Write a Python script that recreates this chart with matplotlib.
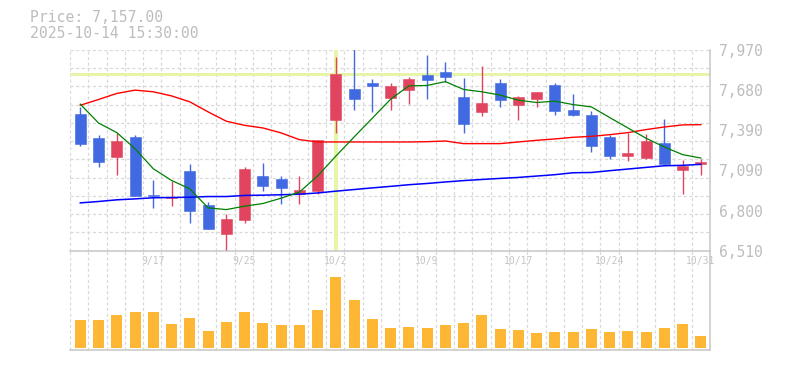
import matplotlib
matplotlib.use("Agg")
import matplotlib.pyplot as plt
import numpy as np

# daily candles, 9/10 - 10/31
dates = ["9/10", "9/11", "9/12", "9/16", "9/17", "9/18", "9/19", "9/22", "9/24", "9/25",
         "9/26", "9/29", "9/30", "10/1", "10/2", "10/3", "10/6", "10/7", "10/8", "10/9",
         "10/10", "10/14", "10/15", "10/16", "10/17", "10/20", "10/21", "10/22", "10/23", "10/24",
         "10/27", "10/28", "10/29", "10/30", "10/31"]
opens = [7503, 7328, 7191, 7335, 6912, 6890, 7087, 6846, 6629, 6731,
         7050, 7028, 6919, 6943, 7461, 7685, 7729, 7622, 7680, 7788,
         7809, 7627, 7520, 7729, 7571, 7615, 7714, 7532, 7496, 7335,
         7198, 7184, 7291, 7096, 7140]
closes = [7286, 7155, 7306, 6906, 6906, 6904, 6797, 6666, 6744, 7101,
          6982, 6965, 6955, 7313, 7795, 7615, 7709, 7707, 7758, 7753,
          7775, 7432, 7583, 7607, 7627, 7663, 7527, 7498, 7271, 7198,
          7218, 7306, 7140, 7125, 7157]
highs = [7556, 7350, 7366, 7350, 7023, 7014, 7138, 6863, 6778, 7116,
         7145, 7050, 7057, 7313, 7919, 7990, 7758, 7727, 7773, 7934,
         7882, 7766, 7853, 7758, 7634, 7663, 7729, 7649, 7525, 7350,
         7366, 7357, 7466, 7167, 7174]
lows = [7271, 7118, 7058, 6906, 6819, 6838, 6709, 6666, 6512, 6709,
        6943, 6848, 6848, 6924, 7367, 7534, 7520, 7534, 7576, 7615,
        7734, 7366, 7490, 7556, 7461, 7556, 7498, 7490, 7228, 7177,
        7162, 7177, 7140, 6921, 7060]
ma5 = [7576, 7439, 7369, 7252, 7106, 7021, 6960, 6822, 6809, 6834,
       6853, 6892, 6936, 7053, 7198, 7337, 7474, 7612, 7709, 7712,
       7740, 7683, 7666, 7642, 7605, 7588, 7598, 7573, 7556, 7479,
       7403, 7328, 7264, 7209, 7184]
ma25 = [7568, 7610, 7654, 7678, 7666, 7636, 7593, 7520, 7452, 7422,
        7403, 7367, 7318, 7301, 7301, 7301, 7301, 7301, 7301, 7303,
        7308, 7289, 7289, 7289, 7301, 7313, 7323, 7335, 7342, 7354,
        7369, 7391, 7410, 7425, 7427]
ma75 = [6858, 6868, 6880, 6887, 6895, 6897, 6899, 6904, 6904, 6912,
        6914, 6917, 6921, 6930, 6943, 6955, 6967, 6978, 6990, 6999,
        7010, 7020, 7028, 7036, 7043, 7053, 7063, 7077, 7079, 7092,
        7104, 7116, 7128, 7131, 7138]
volume = [415, 415, 490, 535, 535, 355, 445, 250, 385, 535,
          370, 340, 340, 565, 1060, 715, 430, 295, 310, 295,
          340, 370, 490, 280, 265, 220, 235, 235, 280, 235,
          250, 235, 295, 355, 175]

price_ticks = [6510, 6802, 7094, 7386, 7678, 7970]
price_labels = ["6,510", "6,800", "7,090", "7,390", "7,680", "7,970"]
label_idx = [4, 9, 14, 19, 24, 29, 34]
cross_idx = 14
header = ["Price: 7,157.00", "2025-10-14 15:30:00"]

UP = "#e0445f"
DOWN = "#4169e1"
GRID = "#d9d9d9"
SPINE = "#c6c6c6"
TXT = "#bdbdbd"
MONO = "DejaVu Sans Mono"

x = np.arange(len(dates))
o = np.array(opens); c = np.array(closes)
col = [UP if cc >= oo else DOWN for oo, cc in zip(o, c)]

fig = plt.figure(figsize=(7.85, 3.70), dpi=100)
ax = fig.add_axes([70/785, 1 - 250.7/370, 640/785, 200.7/370])
axv = fig.add_axes([70/785, 1 - 350/370, 640/785, 99/370])

xlo, xhi = -0.564, 34.5
gx = xlo + np.arange(36) * 1.002
gy = np.linspace(6510, 7970, 12)

for a in (ax, axv):
    a.set_xlim(xlo, xhi)
    for v in gx:
        a.axvline(v, color=GRID, lw=0.9, ls=(0, (2.5, 2)), zorder=0)
    for s in ("top", "left"):
        a.spines[s].set_visible(False)
    for s in ("bottom", "right"):
        a.spines[s].set_color(SPINE)
        a.spines[s].set_linewidth(1.1)
    a.set_facecolor("none")

for v in gy[1:]:
    ax.axhline(v, color=GRID, lw=0.9, ls=(0, (2.5, 2)), zorder=0)

ax.set_ylim(6510, 7970)

# crosshair
ax.axvline(cross_idx, color="#e6f5a8", lw=2.9, zorder=1)
ax.axhline(closes[cross_idx], color="#e6f5a8", lw=2.1, zorder=1)

# candles
ax.vlines(x, lows, highs, colors=col, lw=1.0, zorder=3)
bh = np.maximum(np.abs(c - o), 6)
ax.bar(x, bh, bottom=np.minimum(o, c), width=0.6, color=col,
       edgecolor=col, linewidth=0.4, zorder=4)

# moving averages
ax.plot(x, ma25, color="#ff0000", lw=1.0, zorder=5)
ax.plot(x, ma75, color="#0000ff", lw=1.1, zorder=5)
ax.plot(x, ma5, color="#008000", lw=0.9, zorder=5)

ax.yaxis.tick_right()
ax.set_yticks(price_ticks)
ax.set_yticklabels(price_labels, fontfamily=MONO, fontsize=10.5, color=TXT,
                   va="center_baseline")
ax.tick_params(axis="y", length=0, pad=6.5)
ax.set_xticks(label_idx)
ax.set_xticklabels([dates[i] for i in label_idx], fontfamily=MONO,
                   fontsize=7, color="#c4c4c4")
ax.tick_params(axis="x", length=0, pad=4)

# volume
axv.bar(x, volume, width=0.6, color="#fdb734", zorder=3)
axv.set_ylim(-34.5, 1450)
axv.set_xticks([])
axv.set_yticks([])

fig.text(30/785, 1 - 17.7/370, header[0], fontfamily=MONO, fontsize=10.6,
         color=TXT, va="center", ha="left")
fig.text(30/785, 1 - 33/370, header[1], fontfamily=MONO, fontsize=10.6,
         color=TXT, va="center", ha="left")

fig.savefig("out.png", dpi=100, facecolor="white")
